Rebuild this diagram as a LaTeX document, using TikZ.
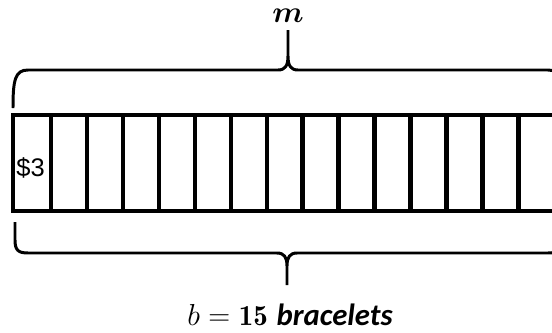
\documentclass[tikz,border=0pt]{standalone}
\usepackage{bm}
\usepackage{fontspec}
\newfontfamily\arialf{Liberation Sans}
\newfontfamily\calif{Carlito}
\usetikzlibrary{positioning}

\begin{document}
\begin{tikzpicture}[x=0.02cm,y=-0.02cm,line width=1.7pt,
    tira/.style={line width=2.5pt},
    llave/.style={line width=1.7pt,line join=round}]
  \useasboundingbox (0,0) rectangle (552,332);
  \clip (0,0) rectangle (552,332);
  % tira de 15 casillas
  \draw[tira] (13,115) rectangle (560,211);
  \foreach \i in {0,...,13} \draw[tira] ({51+35.95*\i},115)--({51+35.95*\i},211);
  \node[anchor=base west,inner sep=0pt,font={\arialf\fontsize{14.5}{16}\selectfont}] (precio) at (15,176){\$3};
  % llave de arriba
  \draw[llave] (13,108) .. controls (13,80) and (15,70) .. (28,70) -- (278,70)
     .. controls (285,70) and (288,66) .. (288,56) -- (288,30)
     (288,56) .. controls (288,66) and (291,70) .. (298,70) -- (548,70)
     .. controls (561,70) and (563,80) .. (563,108);
  \node[anchor=base,inner sep=0pt,font={\fontsize{17}{19}\selectfont}] (m) at (288,22){$\bm{m}$};
  % llave de abajo
  \draw[llave] (15,222) -- (15,240) .. controls (15,250) and (18,253) .. (28,253) -- (277,253)
     .. controls (284,253) and (287,257) .. (287,266) -- (287,285)
     (287,266) .. controls (287,257) and (290,253) .. (297,253) -- (548,253)
     .. controls (558,253) and (561,250) .. (561,240) -- (561,222);
  \node[anchor=base,inner sep=0pt,font={\fontsize{16.5}{18}\selectfont}] (b) at (290,325)
     {$b=\mathbf{15}$ {\calif\bfseries\itshape\fontsize{17.5}{19}\selectfont bracelets}};
\end{tikzpicture}
\end{document}
